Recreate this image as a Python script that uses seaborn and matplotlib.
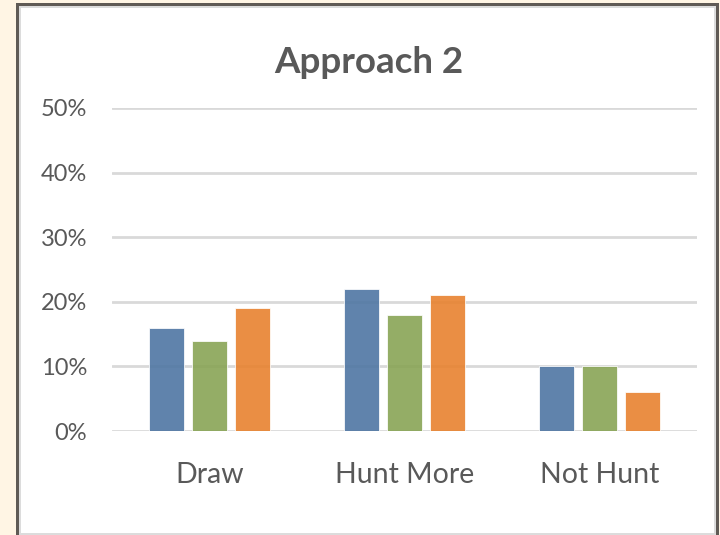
import matplotlib
matplotlib.use("Agg")
import matplotlib.pyplot as plt
import seaborn as sns
import pandas as pd
from matplotlib.patches import Rectangle
from matplotlib.ticker import PercentFormatter

categories = ["Draw", "Hunt More", "Not Hunt"]
series_names = ["Series 1", "Series 2", "Series 3"]
series1 = [0.16, 0.22, 0.10]
series2 = [0.14, 0.18, 0.10]
series3 = [0.19, 0.21, 0.06]
yticks = [0.0, 0.1, 0.2, 0.3, 0.4, 0.5]
title = "Approach 2"

colors = ["#4f76a3", "#88a455", "#e8822f"]

rows = []
for name, vals in zip(series_names, [series1, series2, series3]):
    for c, v in zip(categories, vals):
        rows.append({"Category": c, "Series": name, "Value": v})
df = pd.DataFrame(rows)

sns.set_theme(style="white")
plt.rcParams["font.family"] = ["Lato", "DejaVu Sans"]

W, H = 720, 535
fig = plt.figure(figsize=(W / 100, H / 100), dpi=100)
fig.patch.set_facecolor("#fff5e4")

def px_rect(x0, y0, x1, y1, **kw):
    r = Rectangle((x0 / W, 1 - y1 / H), (x1 - x0) / W, (y1 - y0) / H,
                  transform=fig.transFigure, zorder=-10, **kw)
    fig.patches.append(r)

# chart frame
px_rect(16, 3, 719, 540, facecolor="#5f5a55", edgecolor="none")
px_rect(19, 6, 716, 540, facecolor="#dcdcdc", edgecolor="none")
px_rect(21, 8, 714, 533, facecolor="white", edgecolor="none")

ax = fig.add_axes([112 / W, (H - 431) / H, 585 / W, 323 / H])
ax.set_facecolor("none")

sns.barplot(data=df, x="Category", y="Value", hue="Series", order=categories,
            hue_order=series_names, palette=colors, width=0.66, gap=0.2,
            alpha=0.9, legend=False, ax=ax, zorder=3, saturation=1,
            edgecolor="white", linewidth=0.6)

ax.set_ylim(0, 0.5)
ax.set_xlim(-0.5, 2.5)
ax.set_yticks(yticks)
ax.yaxis.set_major_formatter(PercentFormatter(1.0, decimals=0))
ax.grid(axis="y", color="#d9d9d9", linewidth=2, zorder=1)
ax.set_axisbelow(False)
for gl in ax.get_ygridlines():
    gl.set_zorder(1)
for s in ["top", "right", "left", "bottom"]:
    ax.spines[s].set_visible(False)
ax.tick_params(axis="y", length=0, pad=18, labelsize=17, labelcolor="#595959")
ax.tick_params(axis="x", length=0, pad=22, labelsize=20.5, labelcolor="#595959")
ax.set_xlabel("")
ax.set_ylabel("")

fig.text(369 / W, (H - 73) / H, title, ha="center", va="baseline",
         fontsize=26.5, fontweight="bold", color="#595959")

fig.savefig("out.png", dpi=100, facecolor=fig.get_facecolor())
